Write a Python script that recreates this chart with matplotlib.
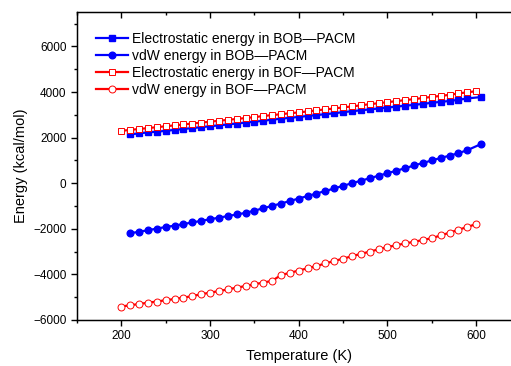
import matplotlib
matplotlib.use("Agg")
import matplotlib.pyplot as plt
from matplotlib.ticker import MultipleLocator

plt.rcParams['font.family'] = ['Liberation Sans', 'DejaVu Sans']

# BOB-PACM temperatures (K)
temp_bob = [210, 220, 230, 240, 250, 260, 270, 280, 290, 300,
            310, 320, 330, 340, 350, 360, 370, 380, 390, 400,
            410, 420, 430, 440, 450, 460, 470, 480, 490, 500,
            510, 520, 530, 540, 550, 560, 570, 580, 590, 605]
elec_bob = [2140, 2190, 2230, 2260, 2300, 2340, 2380, 2420, 2460, 2500,
            2540, 2580, 2620, 2660, 2700, 2740, 2790, 2830, 2870, 2910,
            2950, 2990, 3030, 3070, 3120, 3160, 3200, 3240, 3280, 3320,
            3360, 3400, 3440, 3480, 3530, 3570, 3610, 3660, 3720, 3780]
vdw_bob = [-2190, -2130, -2060, -1990, -1920, -1860, -1790, -1720, -1650, -1580,
           -1510, -1440, -1370, -1300, -1200, -1100, -990, -890, -780, -670,
           -560, -450, -340, -230, -110, 0, 110, 220, 330, 440,
           550, 660, 780, 890, 1000, 1110, 1210, 1320, 1450, 1710]

# BOF-PACM
temp_bof = [200, 210, 220, 230, 240, 250, 260, 270, 280, 290,
            300, 310, 320, 330, 340, 350, 360, 370, 380, 390,
            400, 410, 420, 430, 440, 450, 460, 470, 480, 490,
            500, 510, 520, 530, 540, 550, 560, 570, 580, 590, 600]
elec_bof = [2300, 2340, 2380, 2420, 2460, 2500, 2540, 2580, 2620, 2660,
            2700, 2740, 2780, 2820, 2860, 2900, 2950, 2990, 3030, 3070,
            3110, 3150, 3200, 3240, 3280, 3330, 3370, 3420, 3470, 3510,
            3560, 3600, 3650, 3690, 3740, 3790, 3830, 3880, 3940, 3990, 4040]
vdw_bof = [-5410, -5350, -5300, -5240, -5190, -5130, -5080, -5020, -4950, -4870,
           -4800, -4730, -4660, -4580, -4510, -4430, -4360, -4280, -4030, -3930,
           -3830, -3730, -3630, -3520, -3410, -3310, -3200, -3100, -3000, -2900,
           -2800, -2720, -2640, -2570, -2490, -2410, -2290, -2170, -2040, -1920, -1790]

fig = plt.figure(figsize=(5.11, 3.66), dpi=100)
ax = fig.add_axes([77/511, 46/366, 443.5/511, 307.7/366])

ax.plot(temp_bob, elec_bob, color='#0000ff', lw=1.6, marker='s', ms=3.8,
        mfc='#0000ff', mec='#0000ff', label='Electrostatic energy in BOB\u2014PACM')
ax.plot(temp_bob, vdw_bob, color='#0000ff', lw=1.6, marker='o', ms=4.8,
        mfc='#0000ff', mec='#0000ff', label='vdW energy in BOB\u2014PACM')
ax.plot(temp_bof, elec_bof, color='#ff0000', lw=1.6, marker='s', ms=4.6,
        mfc='white', mec='#ff0000', mew=0.7, label='Electrostatic energy in BOF\u2014PACM')
ax.plot(temp_bof, vdw_bof, color='#ff0000', lw=1.6, marker='o', ms=5,
        mfc='white', mec='#ff0000', mew=0.7, label='vdW energy in BOF\u2014PACM')

ax.set_xlim(150, 650)
ax.set_ylim(-6000, 7500)
ax.set_yticks([-6000, -4000, -2000, 0, 2000, 4000, 6000])
ax.set_xticks([200, 300, 400, 500, 600])
ax.xaxis.set_minor_locator(MultipleLocator(50))
ax.yaxis.set_minor_locator(MultipleLocator(1000))
ax.tick_params(axis='both', which='major', direction='out', length=4, width=1, labelsize=8.5)
ax.tick_params(axis='both', which='minor', direction='out', length=2.5, width=1)
for s in ax.spines.values():
    s.set_linewidth(1)

# top axis with inward ticks, no labels
top = ax.twiny()
top.set_xlim(ax.get_xlim())
top.set_xticks([200, 300, 400, 500, 600])
top.xaxis.set_minor_locator(MultipleLocator(50))
top.tick_params(axis='x', which='major', direction='in', length=4, width=1, labeltop=False)
top.tick_params(axis='x', which='minor', direction='in', length=2.5, width=1)

ax.set_xlabel('Temperature (K)', fontsize=10.5, labelpad=5)
ax.set_ylabel('Energy (kcal/mol)', fontsize=10.5, labelpad=4)

ax.legend(loc='upper left', bbox_to_anchor=(0.03, 0.955), frameon=False, fontsize=10,
          handlelength=2.3, handletextpad=0.3, labelspacing=0.22, borderaxespad=0)

fig.savefig('out.png', dpi=100)
